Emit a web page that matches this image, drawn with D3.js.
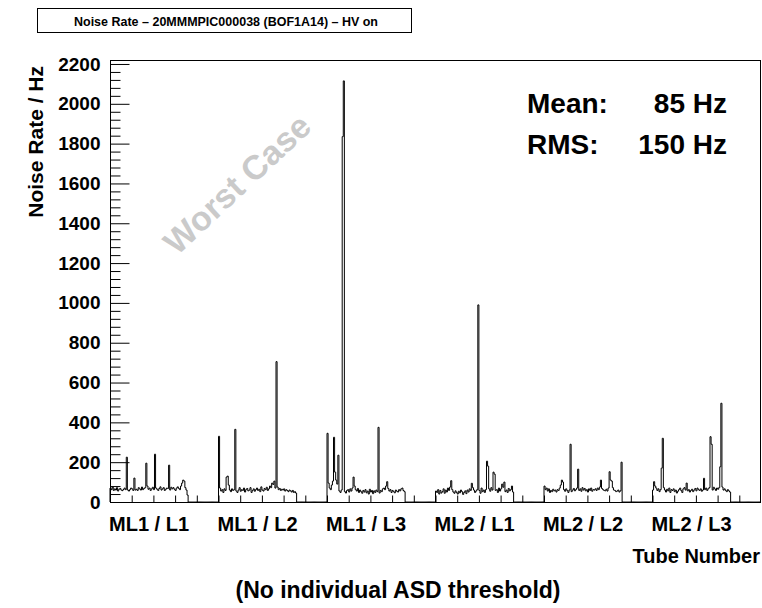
<!DOCTYPE html>
<html>
<head>
<meta charset="utf-8">
<script src="https://cdn.jsdelivr.net/npm/d3@7"></script>
<style>
  html, body { margin: 0; padding: 0; background: #fff; }
  svg { display: block; }
  text { font-family: "Liberation Sans", Arial, Helvetica, sans-serif; font-weight: bold; fill: #000; }
</style>
</head>
<body>
<svg id="chart" width="762" height="608"></svg>
<script>
// ---- data ----
const layers = ["ML1 / L1", "ML1 / L2", "ML1 / L3", "ML2 / L1", "ML2 / L2", "ML2 / L3"];
const tubesPerLayer = 72;
const layerOffsets = [0, 100, 200, 300, 400, 500];

const rateML1L1 = [70,62,75,58,66,60,72,55,64,68,60,57,
                   63,70,62,225,60,55,62,70,66,58,120,60,
                   64,58,72,66,60,75,62,68,72,195,80,64,
                   70,58,66,74,62,240,70,64,58,68,76,60,
                   66,72,58,64,70,68,185,60,74,66,72,64,
                   58,70,76,68,62,80,95,110,105,72,60,35];
const rateML1L2 = [330,70,55,62,48,66,58,125,130,85,60,52,
                   66,58,62,365,55,48,60,72,54,62,58,70,
                   50,62,68,56,60,72,48,58,66,54,62,70,
                   58,64,52,76,60,55,68,62,74,58,66,80,
                   72,95,88,105,70,705,75,62,68,58,64,60,
                   66,55,62,58,52,60,56,50,58,48,52,45];
const rateML1L3 = [345,95,70,62,85,105,325,150,110,90,235,55,
                   48,60,1835,2115,52,45,58,62,50,66,55,70,
                   125,80,62,55,68,48,60,52,44,58,50,62,
                   46,55,40,64,50,58,42,56,48,60,52,375,
                   45,58,52,66,70,62,80,102,68,55,62,48,
                   58,52,46,60,54,50,62,56,66,70,58,52];
const rateML2L1 = [55,48,62,40,58,45,52,66,44,60,50,70,
                   58,75,107,62,50,44,56,48,40,54,46,60,
                   52,38,48,56,42,60,50,66,58,94,72,60,
                   48,55,62,990,58,44,70,52,60,48,62,205,
                   180,66,54,72,60,150,140,58,62,48,70,55,
                   66,90,74,100,52,60,48,68,56,62,80,50];
const rateML2L2 = [80,62,70,55,66,48,58,52,64,56,60,50,
                   62,58,70,85,110,100,62,54,66,58,48,60,
                   290,52,60,68,56,62,70,165,58,66,54,72,
                   60,68,56,62,50,66,58,70,54,62,60,66,
                   58,70,62,75,110,68,62,58,56,64,55,70,
                   152,110,105,72,60,58,52,55,60,50,56,200];
const rateML2L3 = [60,102,80,70,58,66,52,62,170,320,72,60,
                   50,64,56,70,48,62,58,66,52,60,45,54,
                   62,70,58,48,66,72,60,95,56,62,50,58,
                   64,52,60,68,56,70,62,58,66,54,60,119,
                   62,70,58,66,72,328,290,60,74,66,58,70,
                   64,72,177,496,75,60,66,58,52,62,56,50];
const rates = [rateML1L1, rateML1L2, rateML1L3, rateML2L1, rateML2L2, rateML2L3];

const yMajorTicks = [0,200,400,600,800,1000,1200,1400,1600,1800,2000,2200];
const titleText = "Noise Rate \u2013 20MMMPIC000038 (BOF1A14) \u2013 HV on";
const statLabels = ["Mean:", "RMS:"];
const statValues = ["85 Hz", "150 Hz"];

// ---- layout ----
const svg = d3.select("#chart");
const L = 110, R = 761, T = 60, B = 502;
const x = d3.scaleLinear().domain([0, 600]).range([L, R]);
const y = d3.scaleLinear().domain([0, 2220]).range([B, T]);

// Title box
svg.append("rect").attr("x", 37.5).attr("y", 8.5).attr("width", 374).attr("height", 24)
  .attr("fill", "#fff").attr("stroke", "#000").attr("stroke-width", 1);
svg.append("text").attr("x", 226).attr("y", 25.5).attr("text-anchor", "middle")
  .attr("font-size", 13.5).attr("textLength", 304).attr("lengthAdjust", "spacingAndGlyphs")
  .text(titleText);

// Watermark
svg.append("text")
  .attr("transform", "translate(239,186) rotate(-43)")
  .attr("text-anchor", "middle").attr("dominant-baseline", "middle")
  .attr("font-size", 34).style("fill", "#cacaca")
  .text("Worst Case");

// Histogram outline
const bins = [];
for (let i = 0; i < 600; i++) bins.push(0);
rates.forEach((arr, g) => arr.forEach((v, i) => { bins[layerOffsets[g] + i] = v; }));
const pts = [[0, 0]];
bins.forEach((v, i) => { pts.push([i, v]); pts.push([i + 1, v]); });
pts.push([600, 0]);
const line = d3.line().x(d => x(d[0])).y(d => y(d[1]));
svg.append("path").attr("d", line(pts)).attr("fill", "none")
  .attr("stroke", "#000").attr("stroke-width", 1);

// Frame
svg.append("rect").attr("x", L + 0.5).attr("y", T + 0.5).attr("width", R - L - 1).attr("height", B - T)
  .attr("fill", "none").attr("stroke", "#000").attr("stroke-width", 1);

// Y axis major and minor ticks
const yMinor = d3.range(0, 2201, 40).filter(v => v % 200 !== 0);
const yAxisMinor = svg.append("g").attr("transform", `translate(${L + 0.5},0)`)
  .call(d3.axisLeft(y).tickValues(yMinor).tickSize(-10).tickFormat(""));
const yAxis = svg.append("g").attr("transform", `translate(${L + 0.5},0)`)
  .call(d3.axisLeft(y).tickValues(yMajorTicks).tickSize(-19).tickPadding(10).tickFormat(d3.format("d")));
[yAxis, yAxisMinor].forEach(g => { g.select(".domain").remove(); g.selectAll("line").attr("stroke", "#000"); });
yAxis.selectAll("text").attr("font-size", 19).attr("font-family", null).style("font-weight", "bold");

// X axis ticks
const xAxis = svg.append("g").attr("transform", `translate(0,${B + 0.5})`)
  .call(d3.axisBottom(x).tickValues(d3.range(20, 600, 20)).tickSize(-7).tickFormat(""));
xAxis.select(".domain").remove();
xAxis.selectAll("line").attr("stroke", "#000");

// Group labels
svg.selectAll(".grp").data(layers).enter().append("text")
  .attr("class", "grp")
  .attr("x", (d, i) => x(layerOffsets[i] + tubesPerLayer / 2))
  .attr("y", 531).attr("text-anchor", "middle").attr("font-size", 20)
  .text(d => d);

// Axis titles
svg.append("text").attr("x", 760).attr("y", 563).attr("text-anchor", "end")
  .attr("font-size", 20).text("Tube Number");
svg.append("text").attr("transform", "translate(43,66) rotate(-90)")
  .attr("text-anchor", "end").attr("font-size", 21).text("Noise Rate / Hz");

// Stats
statLabels.forEach((s, i) => {
  svg.append("text").attr("x", 527).attr("y", 113 + i * 41).attr("font-size", 28).text(s);
  svg.append("text").attr("x", 727).attr("y", 113 + i * 41).attr("text-anchor", "end")
    .attr("font-size", 28).text(statValues[i]);
});

// Caption
svg.append("text").attr("x", 398).attr("y", 598).attr("text-anchor", "middle")
  .attr("font-size", 23).text("(No individual ASD threshold)");
</script>
</body>
</html>
